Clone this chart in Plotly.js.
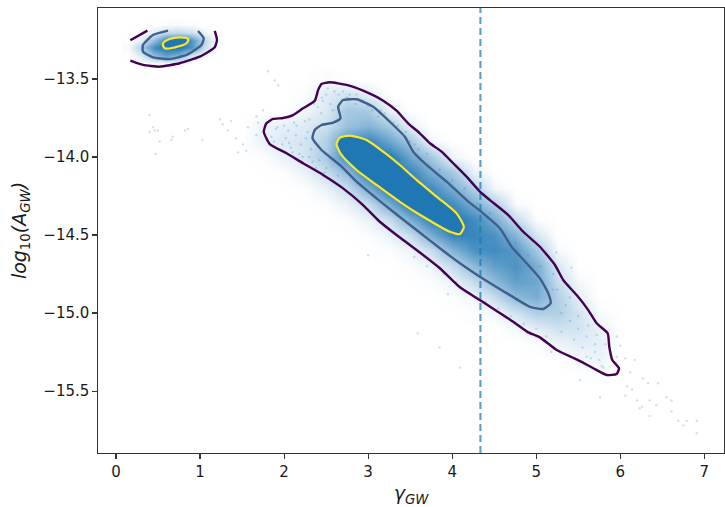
<!DOCTYPE html>
<html><head><meta charset="utf-8">
<script src="https://cdn.plot.ly/plotly-3.0.1.min.js"></script>
<style>html,body{margin:0;padding:0;background:#fff}#c{width:725px;height:507px}</style>
</head><body><div id="c"></div>
<script>
const outerX=[1.758,1.790,1.869,1.988,2.107,2.226,2.365,2.405,2.445,2.544,2.743,2.940,3.179,3.338,3.476,3.615,3.735,3.874,4.012,4.171,4.330,4.449,4.667,4.845,5.044,5.223,5.321,5.481,5.619,5.719,5.850,5.869,5.905,5.985,5.957,5.838,5.679,5.481,5.243,5.044,4.905,4.726,4.529,4.330,4.092,3.854,3.576,3.338,3.139,2.940,2.702,2.464,2.226,2.029,1.830,1.758];
const outerY=[-13.838,-13.784,-13.756,-13.75,-13.731,-13.688,-13.639,-13.571,-13.532,-13.521,-13.538,-13.575,-13.639,-13.703,-13.784,-13.848,-13.912,-13.966,-14.040,-14.126,-14.222,-14.276,-14.372,-14.479,-14.575,-14.692,-14.788,-14.885,-14.981,-15.066,-15.130,-15.216,-15.301,-15.354,-15.391,-15.397,-15.354,-15.297,-15.237,-15.156,-15.124,-15.056,-14.987,-14.917,-14.835,-14.713,-14.596,-14.5,-14.415,-14.308,-14.201,-14.115,-14.040,-13.976,-13.917,-13.838];
const midX=[2.338,2.365,2.445,2.583,2.671,2.643,2.702,2.862,3.060,3.258,3.437,3.536,3.695,3.933,4.171,4.369,4.568,4.707,4.886,5.044,5.143,5.171,5.083,4.925,4.687,4.330,4.092,3.854,3.576,3.298,3.100,2.862,2.663,2.445,2.338];
const midY=[-13.880,-13.827,-13.795,-13.780,-13.752,-13.678,-13.635,-13.630,-13.678,-13.774,-13.870,-13.966,-14.051,-14.158,-14.276,-14.361,-14.457,-14.575,-14.681,-14.778,-14.874,-14.938,-14.974,-14.960,-14.885,-14.767,-14.681,-14.585,-14.468,-14.351,-14.265,-14.158,-14.051,-13.955,-13.880];
const coreX=[2.624,2.663,2.782,2.981,3.179,3.377,3.576,3.814,4.052,4.139,4.092,3.973,3.655,3.377,3.100,2.862,2.683,2.624];
const coreY=[-13.917,-13.876,-13.863,-13.891,-13.966,-14.051,-14.147,-14.254,-14.361,-14.447,-14.494,-14.479,-14.383,-14.287,-14.179,-14.083,-13.987,-13.917];
const islandOuterAX=[0.171,0.374];
const islandOuterAY=[-13.252,-13.190];
const islandOuterBX=[1.175,1.202,1.175,0.996,0.758,0.520,0.321,0.171];
const islandOuterBY=[-13.192,-13.25,-13.297,-13.357,-13.399,-13.421,-13.410,-13.383];
const islandMidX=[0.619,0.440,0.321,0.321,0.440,0.639,0.838,1.017,1.044,0.976];
const islandMidY=[-13.190,-13.218,-13.282,-13.325,-13.361,-13.372,-13.346,-13.282,-13.239,-13.192];
const islandCoreX=[0.560,0.639,0.758,0.857,0.838,0.699,0.580,0.560];
const islandCoreY=[-13.271,-13.244,-13.233,-13.244,-13.271,-13.297,-13.303,-13.271];
const densityX=[1.5,1.75,2,2.25,2.5,2.75,3,3.25,3.5,3.75,4,4.25,4.5,4.75,5,5.25,5.5,5.75,6];
const densityY=[-13.5,-13.6,-13.7,-13.8,-13.9,-14,-14.1,-14.2,-14.3,-14.4,-14.5,-14.6,-14.7,-14.8,-14.9,-15,-15.1,-15.2,-15.3,-15.4];
const densityZ=[
[0,0,0,0,.3,0,0,0,0,0,0,0,0,0,0,0,0,0,0],
[0,0,0,.2,1.5,2,1.2,0,0,0,0,0,0,0,0,0,0,0,0],
[0,0,0,.7,1.6,4,3.8,1,0,0,0,0,0,0,0,0,0,0,0],
[0,.9,1.2,1.5,2.4,4.5,5.5,4,1,0,0,0,0,0,0,0,0,0,0],
[0,1,1.6,2,3.5,8,9,6.5,4,.6,0,0,0,0,0,0,0,0,0],
[0,.2,1,2,4,9,10,10,6.5,4,.8,0,0,0,0,0,0,0,0],
[0,0,.2,1,2.5,5,10,10,9,6,4,1,0,0,0,0,0,0,0],
[0,0,0,.2,1,2.5,6,10,10,8.5,6,3.5,.6,0,0,0,0,0,0],
[0,0,0,0,.2,1,2.5,6,10,10,8.5,6,3.5,.4,0,0,0,0,0],
[0,0,0,0,0,.2,1,2.5,6,9.5,10,8.5,6,2.5,.2,0,0,0,0],
[0,0,0,0,0,0,.2,.9,2.5,6,9,9,8,5.5,1.8,0,0,0,0],
[0,0,0,0,0,0,0,.2,.8,2.5,5.5,8,8.5,7.5,4,.4,0,0,0],
[0,0,0,0,0,0,0,0,.2,.8,2.5,5,7,8,6,1.8,0,0,0],
[0,0,0,0,0,0,0,0,0,.2,.8,2.5,5,7,6.5,2.6,.5,0,0],
[0,0,0,0,0,0,0,0,0,0,.2,.7,2.5,5,6,3.5,1.2,0,0],
[0,0,0,0,0,0,0,0,0,0,0,.1,.6,2,3.5,3.5,2,.4,0],
[0,0,0,0,0,0,0,0,0,0,0,0,0,.5,1.2,2.2,2,1,0],
[0,0,0,0,0,0,0,0,0,0,0,0,0,0,.2,.8,1.3,1.2,0],
[0,0,0,0,0,0,0,0,0,0,0,0,0,0,0,0,.5,.8,0],
[0,0,0,0,0,0,0,0,0,0,0,0,0,0,0,0,0,.2,0]];
const islandDensityX=[.15,.3,.45,.6,.75,.9,1.05,1.2];
const islandDensityY=[-13.15,-13.2,-13.25,-13.3,-13.35,-13.4];
const islandDensityZ=[
[0,0,0,.3,.3,.2,0,0],
[0,.2,1.2,2.5,2.8,2.2,.8,0],
[.1,1.2,5,9,10,8,3,.1],
[.4,3.5,8.5,10,10,8,2.5,0],
[.1,1.5,5,7,5.5,2,.3,0],
[0,0,.2,.3,.2,0,0,0]];
const speckX=[0.40,0.46,0.40,0.50,0.44,0.855,0.82,0.47,0.52,0.675,0.66,1.03,1.235,1.27,1.33,1.37,1.43,1.57,1.67,1.75,1.81,1.89,1.93,1.51,1.67,1.69,1.55,1.45,
5.52,5.76,6.06,6.14,6.20,6.26,6.35,6.33,6.45,6.27,6.12,6.08,6.61,6.55,6.43,6.35,6.61,6.69,6.79,6.91,6.75,6.91,6.23,6.00,5.96,6.17,6.06,5.96,5.42,5.24,5.18,4.09,3.85,3.95,3.59,3.0,
1.85,1.92,1.98,2.05,2.1,2.15,2.2,2.25,2.3,1.88,1.95,2.02,2.08,2.14,2.22,2.28,2.34,1.9,2.0,2.06,2.12,2.18,2.26,2.32,2.38,2.44,2.5,2.4,2.46,2.52,2.58,2.5,2.56,2.64,2.3,2.36,2.42,2.48,2.6,2.7,2.78,2.86,2.94,3.05,3.12,3.2,3.3,3.4,3.5,3.6,2.45,2.55,2.65,2.75,2.85,3.0,3.15,3.35,3.45,
3.55,3.7,3.85,4.0,4.15,4.3,4.45,4.6,4.75,4.9,5.05,5.2,3.25,3.4,3.55,3.7,3.9,4.05,4.2,4.4,4.55,4.7,4.85,5.0,5.3,5.4,5.5,5.6,5.7,5.75,5.8,5.3,5.45,5.55,5.65,5.35,5.5,5.62,5.72,5.82,5.78,5.2,5.25,5.12,5.4,5.6,5.7];
const speckY=[-13.73,-13.83,-13.84,-13.83,-13.81,-13.82,-13.83,-13.98,-13.90,-13.87,-13.89,-13.89,-13.76,-13.79,-13.83,-13.77,-13.88,-13.81,-13.74,-13.70,-13.45,-13.51,-13.54,-13.92,-13.86,-13.78,-13.96,-13.97,
-15.43,-15.54,-15.53,-15.49,-15.56,-15.60,-15.56,-15.45,-15.45,-15.42,-15.38,-15.47,-15.56,-15.54,-15.59,-15.66,-15.63,-15.69,-15.69,-15.69,-15.72,-15.77,-15.61,-15.21,-15.15,-15.30,-15.29,-15.28,-14.71,-14.61,-15.25,-15.35,-15.22,-14.88,-15.13,-14.63,
-13.87,-13.81,-13.92,-13.83,-13.97,-13.8,-13.92,-13.77,-14.0,-13.9,-13.95,-13.88,-13.94,-13.86,-14.0,-13.84,-14.03,-13.82,-13.8,-13.91,-13.78,-13.98,-13.88,-13.95,-14.07,-13.72,-13.6,-13.68,-13.64,-13.56,-13.7,-14.07,-14.15,-14.12,-13.76,-13.66,-14.02,-14.1,-13.58,-13.58,-13.6,-13.6,-13.64,-13.7,-13.74,-13.72,-13.78,-13.85,-13.9,-13.95,-13.62,-13.66,-13.6,-13.62,-13.66,-13.67,-13.7,-13.8,-13.84,
-13.92,-13.98,-14.08,-14.15,-14.2,-14.3,-14.36,-14.48,-14.55,-14.63,-14.7,-14.85,-14.46,-14.53,-14.64,-14.7,-14.75,-14.8,-14.87,-14.93,-14.97,-15.02,-15.07,-15.1,-15.0,-15.05,-15.1,-15.15,-15.25,-15.3,-15.35,-15.12,-15.17,-15.22,-15.29,-14.95,-15.02,-15.08,-15.14,-15.2,-15.34,-14.75,-14.85,-15.15,-14.9,-15.28,-15.2];
const gammaRef=[4.336];
const yRange=[-15.897,-13.045];
const xRange=[-0.214,7.234];
const xTicks=[0,1,2,3,4,5,6,7];
const yTicks=[-15.5,-15,-14.5,-14,-13.5];
const yTickText=['−15.5','−15.0','−14.5','−14.0','−13.5'];

const PURPLE='#440154',SLATE='#3f5f8d',YELLOW='#fde725';
const scale=[[0,'rgba(31,119,180,0)'],[1,'rgba(31,119,180,1)']];
function heat(x,y,z){return {type:'heatmap',x,y,z,zmin:0,zmax:10,zsmooth:'best',colorscale:scale,showscale:false,hoverinfo:'skip'};}
function lineT(x,y,c,w){return {x,y,mode:'lines',line:{color:c,width:w||2.4,shape:'spline',smoothing:0.5},hoverinfo:'skip'};}
function coreT(x,y,s){return {x,y,mode:'lines',fill:'toself',fillcolor:'rgb(31,119,180)',line:{color:YELLOW,width:2.2,shape:'spline',smoothing:s},hoverinfo:'skip'};}
const traces=[
 heat(densityX,densityY,densityZ),heat(islandDensityX,islandDensityY,islandDensityZ),
 {x:speckX,y:speckY,mode:'markers',marker:{size:2.4,color:'rgba(31,119,180,0.22)',line:{width:0}},hoverinfo:'skip'},
 {x:[gammaRef[0],gammaRef[0]],y:yRange,mode:'lines',line:{color:'rgba(31,119,180,0.72)',width:2.1,dash:'7px,4px'},hoverinfo:'skip'},
 coreT(coreX,coreY,0.6),coreT(islandCoreX,islandCoreY,1),
 lineT(midX,midY,SLATE),lineT(outerX,outerY,PURPLE),
 lineT(islandMidX,islandMidY,SLATE),
 lineT(islandOuterAX,islandOuterAY,PURPLE),lineT(islandOuterBX,islandOuterBY,PURPLE)
];
const axisBase={showgrid:false,zeroline:false,showline:true,mirror:true,linecolor:'#333',linewidth:1.2,ticks:'outside',ticklen:4.5,tickwidth:1.1,tickcolor:'#333',tickfont:{family:'DejaVu Sans',size:15,color:'#1a1a1a'}};
const layout={width:725,height:507,showlegend:false,paper_bgcolor:'#fff',plot_bgcolor:'#fff',
 margin:{l:98.3,r:1,t:8,b:54},
 xaxis:{...axisBase,range:xRange,tickvals:xTicks,ticktext:xTicks.map(String),title:{text:'<i>γ<sub>GW</sub></i>',font:{family:'DejaVu Sans',size:19,color:'#1a1a1a'},standoff:9}},
 yaxis:{...axisBase,range:yRange,tickvals:yTicks,ticktext:yTickText,title:{text:'<i>log</i><sub>10</sub><i>(A<sub>GW</sub>)</i>',font:{family:'DejaVu Sans',size:19,color:'#1a1a1a'},standoff:11}}
};
Plotly.newPlot('c',traces,layout,{displayModeBar:false,staticPlot:true});
</script></body></html>
